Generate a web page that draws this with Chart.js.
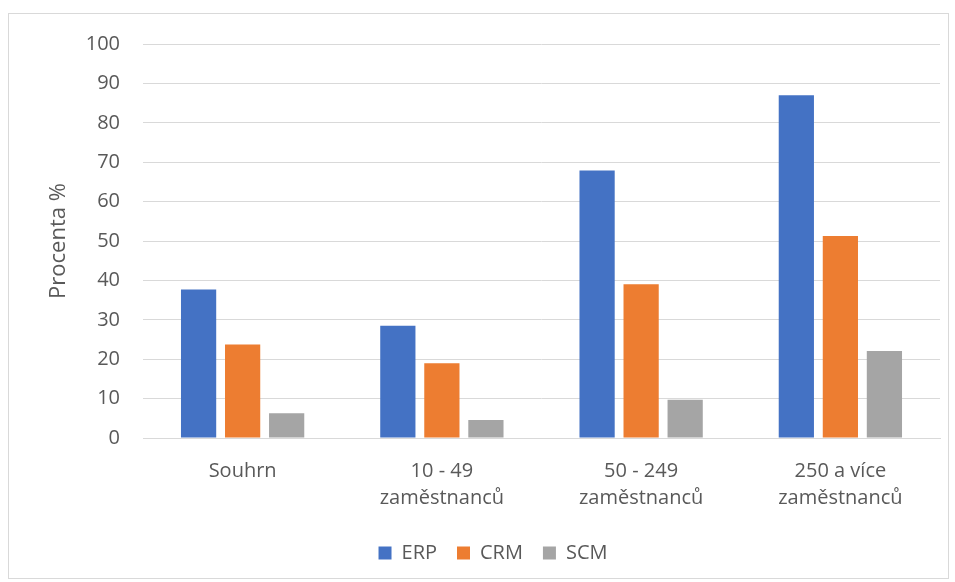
<!DOCTYPE html>
<html>
<head>
<meta charset="utf-8">
<script src="https://cdn.jsdelivr.net/npm/chart.js@4.4.1/dist/chart.umd.min.js"></script>
<style>
  html, body { margin: 0; padding: 0; background: #ffffff; }
  #frame {
    position: absolute; left: 8px; top: 13px;
    width: 939px; height: 564px;
    border: 1px solid #d9d9d9; background: #ffffff;
  }
  #frame canvas { display: block; }
</style>
</head>
<body>
<div id="frame"><canvas id="chart" width="939" height="564"></canvas></div>
<script>
// Share of firms using each enterprise system, by company size
const categories = [["Souhrn"], ["10 - 49", "zaměstnanců"], ["50 - 249", "zaměstnanců"], ["250 a více", "zaměstnanců"]];
const erp = [37.7, 28.5, 67.9, 87.0];
const crm = [23.7, 19.0, 39.0, 51.3];
const scm = [6.3, 4.6, 9.7, 22.1];
const yTicks = [0, 10, 20, 30, 40, 50, 60, 70, 80, 90, 100];

const FONT = "'Open Sans', 'Liberation Sans', sans-serif";
const TEXT = '#595959';

new Chart(document.getElementById('chart'), {
  type: 'bar',
  data: {
    labels: categories,
    datasets: [
      { label: 'ERP', data: erp, backgroundColor: '#4472c4' },
      { label: 'CRM', data: crm, backgroundColor: '#ed7d31' },
      { label: 'SCM', data: scm, backgroundColor: '#a5a5a5' }
    ]
  },
  options: {
    responsive: false,
    animation: false,
    devicePixelRatio: 1,
    layout: { padding: { top: 30, left: 37, right: 8, bottom: 5 } },
    datasets: { bar: { categoryPercentage: 0.663, barPercentage: 0.8 } },
    plugins: {
      tooltip: { enabled: false },
      legend: {
        position: 'bottom',
        labels: {
          color: TEXT, font: { family: FONT, size: 20 },
          boxWidth: 13, boxHeight: 13, padding: 20
        }
      }
    },
    scales: {
      x: {
        grid: { display: false },
        border: { color: '#d9d9d9', width: 1 },
        ticks: {
          color: TEXT, padding: 12, maxRotation: 0,
          font: { family: FONT, size: 20, lineHeight: 1.35 }
        },
        afterFit: s => { s.height = 85; }
      },
      y: {
        min: 0, max: 100,
        afterBuildTicks: s => { s.ticks = yTicks.map(v => ({ value: v })); },
        grid: { color: '#d9d9d9', lineWidth: 1, drawTicks: false },
        border: { display: false },
        ticks: {
          color: TEXT, padding: 23,
          font: { family: FONT, size: 20 }
        },
        title: {
          display: true, text: 'Procenta %', color: TEXT,
          font: { family: FONT, size: 22 }, padding: 0
        },
        afterFit: s => { s.width = 97; s.paddingTop = 0; s.paddingBottom = 0; }
      }
    }
  }
});
</script>
</body>
</html>
